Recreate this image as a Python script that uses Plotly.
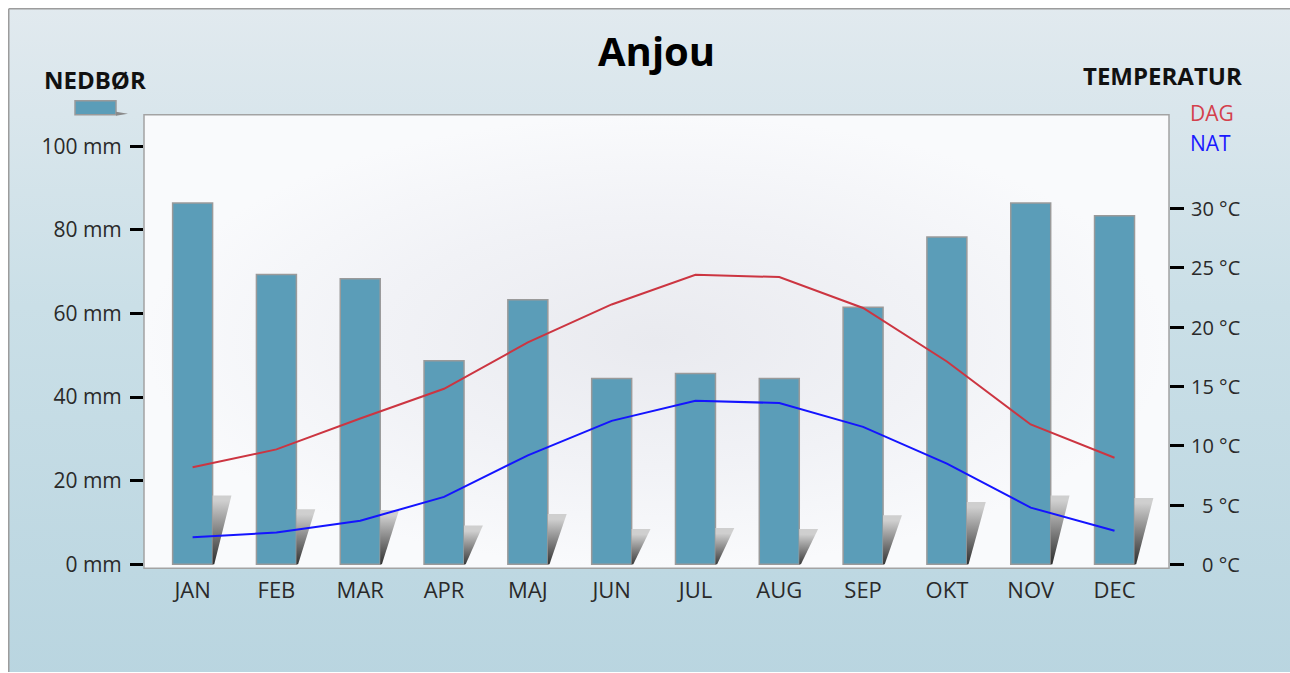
import plotly.graph_objects as go

# ---------------- data ----------------
months = ["JAN", "FEB", "MAR", "APR", "MAJ", "JUN", "JUL", "AUG", "SEP", "OKT", "NOV", "DEC"]
precip_mm = [86.4, 69.3, 68.3, 48.7, 63.3, 44.4, 45.6, 44.4, 61.5, 78.3, 86.4, 83.4]
temp_day = [8.2, 9.7, 12.3, 14.8, 18.7, 21.9, 24.4, 24.2, 21.6, 17.1, 11.8, 9.0]
temp_night = [2.3, 2.7, 3.7, 5.7, 9.2, 12.1, 13.8, 13.6, 11.6, 8.5, 4.8, 2.85]
precip_ticks = [0, 20, 40, 60, 80, 100]
precip_ticktext = [f"{v} mm" for v in precip_ticks]
temp_ticks = [0, 5, 10, 15, 20, 25, 30]
temp_ticktext = [f"{v} °C" for v in temp_ticks]

title = "Anjou"
left_label = "NEDBØR"
right_label = "TEMPERATUR"
day_label = "DAG"
night_label = "NAT"

# ---------------- styling ----------------
W, H = 1290, 681          # rendered height; photo is 673 tall
VIEW_H = 673
FONT = "Open Sans"
BAR_COLOR = "#5b9db8"
BAR_EDGE = "#9a9a9a"
DAY_COLOR = "#cc3541"
NIGHT_COLOR = "#1414ff"
TXT = "#2a2a2a"


def px(x):
    return x / W


def py(y):
    return 1 - y / VIEW_H


def fy(y):
    # reference pixel row -> helper-axis value (bottom-up)
    return H - y * H / VIEW_H


L, R, T, B = 144, 1169, 115, 569
bar_w = 0.477

fig = go.Figure()

# background gradient panel (on a full-paper helper axis pair), white 8px edge outside
fig.add_trace(go.Scatter(
    x=[8.75, W + 10, W + 10, 8.75, 8.75],
    y=[fy(8.75), fy(8.75), -10, -10, fy(8.75)],
    mode="lines", fill="toself",
    line=dict(color="#9c9c9c", width=1.5),
    fillgradient=dict(type="vertical", start=0, stop=H,
                      colorscale=[[0, "#b9d5e0"], [0.55, "#cadfe7"], [1, "#e2eaef"]]),
    hoverinfo="skip", showlegend=False, xaxis="x", yaxis="y"))

# plot-area panel with soft shading
fig.add_trace(go.Scatter(
    x=[L, R, R, L, L],
    y=[fy(T), fy(T), fy(B), fy(B), fy(T)],
    mode="lines", fill="toself", line=dict(width=0),
    fillgradient=dict(type="radial",
                      colorscale=[[0, "#e9eaef"], [0.55, "#f1f2f6"], [1, "#f9fafc"]]),
    hoverinfo="skip", showlegend=False, xaxis="x", yaxis="y"))

# bars
fig.add_trace(go.Bar(
    x=list(range(len(months))), y=precip_mm, width=bar_w,
    marker=dict(color=BAR_COLOR, line=dict(color=BAR_EDGE, width=1.5)),
    hoverinfo="skip", showlegend=False, xaxis="x2", yaxis="y2"))

# bar shadows (derived from bar values)
for i, v in enumerate(precip_mm):
    h = 0.19 * v
    x0 = i + bar_w / 2
    fig.add_trace(go.Scatter(
        x=[x0, x0 + 0.225, x0 + 0.02, x0, x0],
        y=[h, h, 0, 0, h],
        mode="lines", fill="toself", line=dict(width=0),
        fillgradient=dict(type="vertical", start=0, stop=h,
                          colorscale=[[0, "#1e1e1e"], [1, "#cfcfcf"]]),
        hoverinfo="skip", showlegend=False, xaxis="x2", yaxis="y2"))

# temperature lines
fig.add_trace(go.Scatter(
    x=list(range(len(months))), y=temp_day, mode="lines",
    line=dict(color=DAY_COLOR, width=2),
    hoverinfo="skip", showlegend=False, xaxis="x2", yaxis="y3"))
fig.add_trace(go.Scatter(
    x=list(range(len(months))), y=temp_night, mode="lines",
    line=dict(color=NIGHT_COLOR, width=2),
    hoverinfo="skip", showlegend=False, xaxis="x2", yaxis="y3"))

mm_per_px = 1 / 4.185
c_per_px = 1 / 11.9

fig.update_layout(
    width=W, height=H, autosize=False,
    margin=dict(l=0, r=0, t=0, b=0, pad=0),
    paper_bgcolor="#ffffff",
    plot_bgcolor="rgba(0,0,0,0)",
    hovermode=False,
    font=dict(family=FONT, color=TXT),
    xaxis=dict(domain=[0, 1], range=[0, W], visible=False, fixedrange=True),
    yaxis=dict(domain=[0, 1], range=[0, H], visible=False, fixedrange=True),
    xaxis2=dict(domain=[px(L), px(R)], anchor="y2",
                range=[-0.58, 11.65],
                tickmode="array", tickvals=list(range(len(months))), ticktext=months,
                showgrid=False, zeroline=False, showline=False, ticks="",
                tickfont=dict(size=22, color=TXT, family=FONT),
                ticklabelstandoff=7),
    yaxis2=dict(domain=[py(B), py(T)], anchor="x2",
                range=[-(B - 565) * mm_per_px, (565 - T) * mm_per_px],
                tickmode="array", tickvals=precip_ticks, ticktext=precip_ticktext,
                ticks="outside", ticklen=13, tickwidth=3, tickcolor="#000",
                showgrid=False, zeroline=False, showline=False,
                tickfont=dict(size=21, color=TXT, family=FONT),
                ticklabelstandoff=4),
    yaxis3=dict(overlaying="y2", side="right", anchor="x2",
                range=[-(B - 565.5) * c_per_px, (565.5 - T) * c_per_px],
                tickmode="array", tickvals=temp_ticks,
                ticks="outside", ticklen=14, tickwidth=3, tickcolor="#000",
                showticklabels=False,
                showgrid=False, zeroline=False, showline=False),
)

# plot frame
fig.add_shape(type="rect", xref="x2 domain", yref="y2 domain", x0=0, x1=1, y0=0, y1=1,
              line=dict(color="#a3a3a3", width=1.5), layer="above")

annotations = []
# right axis labels (right aligned)
for v, t in zip(temp_ticks, temp_ticktext):
    annotations.append(dict(x=px(1242), y=v, xref="paper", yref="y3", text=t,
                            showarrow=False, xanchor="right", yanchor="middle",
                            font=dict(size=20, color=TXT, family=FONT)))
annotations += [
    dict(x=px(656), y=py(51), text=f"<b>{title}</b>", font=dict(size=40, color="#000", family=FONT)),
    dict(x=px(95), y=py(80), text=f"<b>{left_label}</b>", font=dict(size=24, color="#111", family=FONT)),
    dict(x=px(1162), y=py(76), text=f"<b>{right_label}</b>", font=dict(size=24, color="#111", family=FONT)),
    dict(x=px(1188), y=py(113), text=day_label, xanchor="left", font=dict(size=21, color="#d4404c", family=FONT)),
    dict(x=px(1188), y=py(143), text=night_label, xanchor="left", font=dict(size=21, color="#1a1aff", family=FONT)),
]
for a in annotations:
    a.setdefault("xref", "paper")
    a.setdefault("yref", "paper")
    a.setdefault("showarrow", False)
    a.setdefault("xanchor", "center")
    a.setdefault("yanchor", "middle")
fig.update_layout(annotations=annotations)

# legend icon for precipitation
fig.add_shape(type="rect", xref="paper", yref="paper",
              x0=px(75), x1=px(116), y0=py(115), y1=py(101),
              fillcolor=BAR_COLOR, line=dict(color=BAR_EDGE, width=1.5))
fig.add_shape(type="path", xref="paper", yref="paper",
              path=f"M {px(116)} {py(112)} L {px(128)} {py(114)} L {px(116)} {py(116)} Z",
              fillcolor="#8a8a8a", line=dict(width=0))

fig.write_html("out.html", config={"displayModeBar": False},
               post_script="document.body.style.margin='0';document.body.style.overflow='hidden';")
